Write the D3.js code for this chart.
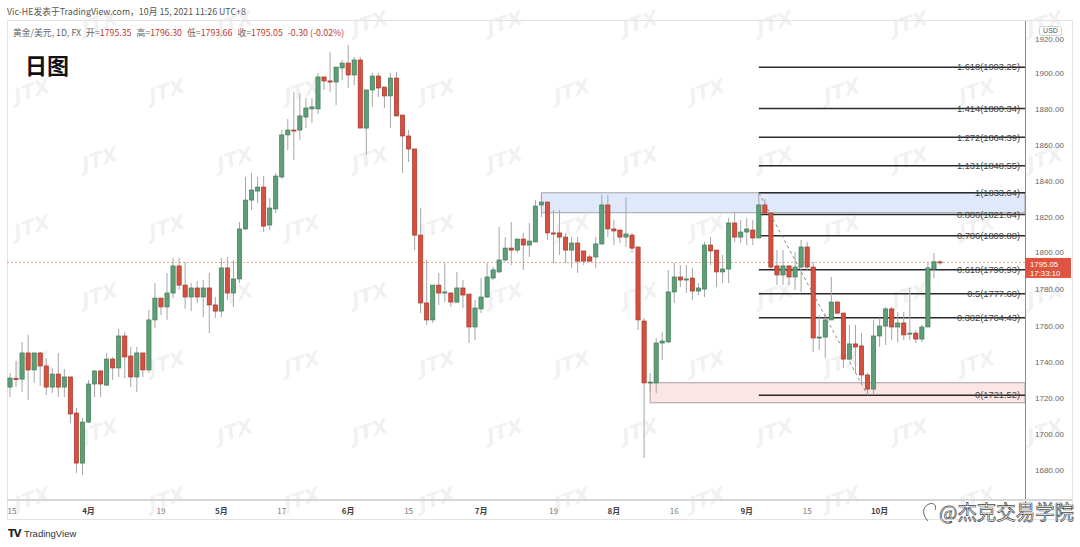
<!DOCTYPE html>
<html><head><meta charset="utf-8">
<script src="https://cdn.jsdelivr.net/npm/d3@7"></script>
<style>body{margin:0;background:#fff;}svg{display:block;}</style>
</head><body>
<svg id="c" width="1080" height="547"></svg>
<script>
// ---- data ----
const opens = [1726.0,1730.7,1730.4,1744.9,1735.5,1744.9,1737.7,1726.0,1733.2,1726.0,
1731.6,1711.6,1683.9,1706.6,1727.7,1734.9,1727.1,1741.5,1736.6,1754.3,
1743.2,1731.6,1744.9,1735.5,1763.2,1775.3,1770.4,1778.1,1793.1,1782.5,
1775.9,1780.9,1775.9,1780.9,1771.5,1768.1,1792.0,1778.1,1785.9,1813.6,
1829.6,1834.6,1836.8,1815.8,1824.7,1842.4,1865.7,1868.4,1868.4,1875.6,
1880.1,1880.1,1897.8,1895.6,1895.0,1902.8,1905.5,1898.9,1907.2,1869.5,
1890.6,1898.3,1892.2,1887.3,1897.2,1876.7,1865.1,1857.9,1810.2,1772.6,
1763.2,1782.5,1778.1,1778.1,1773.1,1780.9,1777.5,1759.3,1769.3,1775.9,
1786.4,1789.8,1796.4,1803.0,1801.9,1808.0,1804.7,1806.4,1826.9,1828.5,
1811.4,1811.4,1809.1,1801.9,1805.8,1801.4,1798.1,1798.1,1805.3,1826.9,
1813.6,1813.0,1809.1,1810.2,1803.6,1762.6,1728.3,1728.3,1750.4,1751.0,
1778.7,1787.0,1785.3,1786.4,1779.2,1780.3,1804.7,1801.9,1789.8,1791.4,
1816.9,1809.1,1811.9,1813.0,1808.6,1826.9,1822.4,1793.1,1788.1,1793.1,
1787.0,1792.5,1803.6,1792.5,1753.2,1753.7,1763.2,1773.1,1767.0,1741.5,
1749.9,1748.8,1732.7,1724.9,1754.3,1759.8,1769.3,1759.3,1761.5,1755.4,
1755.9,1752.6,1759.3,1791.4,1795.35];
const highs = [1733.8,1740.4,1751.0,1754.9,1744.9,1745.4,1742.1,1736.6,1744.9,1736.0,
1731.6,1714.4,1708.9,1729.9,1735.5,1735.5,1744.9,1742.7,1758.2,1756.5,
1748.2,1748.2,1744.9,1768.7,1783.6,1775.3,1789.2,1797.5,1797.5,1795.3,
1783.6,1784.8,1785.3,1789.2,1775.9,1797.5,1798.1,1796.4,1817.4,1842.4,
1844.6,1842.4,1842.9,1830.7,1844.6,1868.4,1874.5,1889.5,1888.9,1886.1,
1886.1,1900.0,1897.8,1911.6,1903.3,1907.2,1915.5,1908.9,1908.9,1890.6,
1900.0,1900.0,1892.2,1900.0,1900.6,1876.7,1868.4,1857.9,1825.2,1796.4,
1782.5,1789.2,1794.7,1778.7,1789.8,1785.3,1777.5,1774.2,1786.4,1794.7,
1792.5,1814.7,1809.1,1817.4,1808.0,1811.4,1816.9,1829.6,1832.4,1828.5,
1824.1,1824.1,1811.4,1809.1,1809.1,1801.4,1799.2,1809.1,1832.4,1832.4,
1818.6,1813.0,1831.3,1811.4,1803.6,1764.3,1733.8,1753.2,1756.5,1790.9,
1794.7,1793.6,1793.6,1792.0,1783.6,1806.4,1809.1,1801.9,1799.2,1819.7,
1823.0,1818.6,1819.7,1818.6,1833.6,1830.2,1823.0,1801.9,1801.9,1793.6,
1800.8,1807.5,1806.4,1795.3,1765.9,1767.0,1787.0,1773.6,1767.0,1760.4,
1760.4,1755.9,1733.8,1763.2,1764.3,1770.4,1770.4,1767.6,1767.6,1780.9,
1757.6,1760.4,1795.3,1800.3,1796.30];
const lows = [1720.5,1726.0,1723.3,1718.8,1728.3,1726.6,1721.6,1722.7,1720.5,1720.5,
1706.1,1678.4,1677.3,1706.1,1720.5,1720.5,1726.6,1729.9,1731.6,1731.0,
1726.0,1723.3,1731.6,1733.8,1758.7,1765.9,1763.2,1775.3,1779.8,1769.3,
1768.1,1772.6,1764.8,1755.9,1764.3,1764.8,1774.2,1770.4,1783.6,1813.0,
1824.1,1828.0,1811.9,1813.0,1822.4,1841.3,1857.3,1851.8,1862.9,1869.5,
1872.3,1877.3,1890.6,1889.5,1882.3,1896.1,1891.7,1893.3,1869.5,1854.6,
1881.2,1886.7,1880.6,1869.5,1876.2,1844.6,1850.7,1801.9,1767.0,1760.4,
1761.5,1771.5,1773.1,1770.4,1772.6,1769.8,1750.4,1752.0,1767.0,1775.3,
1785.3,1789.2,1795.3,1793.6,1800.3,1790.9,1798.1,1806.4,1820.2,1807.5,
1794.7,1799.2,1794.7,1792.0,1789.2,1793.6,1795.3,1792.0,1804.7,1809.1,
1804.7,1805.8,1803.6,1800.3,1757.6,1686.7,1723.3,1722.7,1741.0,1750.4,
1772.6,1781.4,1778.1,1774.2,1777.0,1775.9,1793.6,1781.4,1783.6,1783.6,
1806.4,1805.8,1804.7,1804.7,1808.6,1822.4,1791.4,1782.5,1782.5,1782.5,
1779.8,1778.7,1790.9,1745.4,1746.5,1742.1,1763.2,1766.5,1736.6,1741.0,
1733.8,1728.3,1721.5,1721.6,1748.2,1749.3,1752.0,1751.0,1752.0,1752.0,
1750.4,1751.0,1759.3,1786.4,1793.66];
const closes = [1731.0,1730.2,1744.9,1735.5,1744.9,1737.7,1726.0,1733.2,1726.0,1731.6,
1711.1,1683.9,1706.6,1727.7,1734.9,1727.7,1741.5,1736.6,1754.3,1742.7,
1731.6,1744.9,1735.5,1763.2,1775.3,1770.4,1778.1,1793.1,1782.5,1775.9,
1780.9,1775.9,1780.9,1771.5,1768.1,1792.0,1778.1,1785.9,1813.6,1829.6,
1835.2,1836.8,1815.2,1825.2,1842.9,1865.7,1868.4,1867.9,1876.2,1880.6,
1881.2,1897.8,1895.6,1895.0,1903.3,1905.5,1898.9,1907.2,1869.5,1890.6,
1898.3,1891.7,1887.3,1897.2,1876.2,1865.1,1857.9,1810.2,1772.6,1763.2,
1782.5,1778.1,1778.7,1773.1,1780.9,1777.0,1759.3,1769.8,1775.9,1787.0,
1790.9,1796.4,1803.0,1801.9,1808.0,1804.7,1806.9,1826.3,1828.5,1811.4,
1810.8,1809.1,1801.9,1805.8,1795.8,1795.8,1795.8,1805.3,1826.9,1813.6,
1812.5,1809.1,1810.8,1803.0,1763.2,1728.3,1728.8,1750.4,1751.5,1778.7,
1787.0,1785.3,1785.9,1779.2,1780.9,1804.7,1801.4,1789.8,1791.4,1816.9,
1809.1,1811.9,1813.6,1808.6,1826.9,1822.4,1792.5,1788.1,1793.1,1787.0,
1792.5,1803.6,1792.5,1753.2,1753.7,1763.2,1773.1,1767.0,1741.5,1749.9,
1748.2,1732.7,1724.9,1754.3,1759.8,1769.3,1759.3,1761.5,1754.9,1755.9,
1752.6,1759.3,1792.0,1795.4,1795.05];

const tickIdx = [0,13,25,35,45,56,66,78,90,100,110,122,132,144];
const tickLabels = ["15","4月","19","5月","17","6月","15","7月","19","8月","16","9月","15","10月"];
const priceTicks = [1680,1700,1720,1740,1760,1780,1800,1820,1840,1860,1880,1900,1920];

const fibRatios = ["1.618","1.414","1.272","1.131","1","0.886","0.786","0.618","0.5","0.382","0"];
const fibValues = [1903.25,1880.34,1864.39,1848.55,1833.64,1821.64,1809.88,1790.93,1777.68,1764.43,1721.52];
const fibStart = 124;

const zoneStart = [88,106];
const zoneTop = [1833.64,1728.4];
const zoneBottom = [1822.6,1717.3];

const swingFrom = {i:124, p:1833.64};
const swingTo = {i:142, p:1721.52};

const lastPrice = 1795.05;
const countdown = "17:33:10";

// ---- layout ----
const svg = d3.select("#c");
const L = 7, R = 1025, T = 21, B = 500;
const x = d3.scaleLinear().domain([0,154]).range([10,940]);
const y = d3.scaleLinear().domain([1680,1900]).range([470.1,73]);
const latin = "'Liberation Sans','Noto Sans CJK SC',sans-serif";
const cjk = "'Noto Sans CJK SC','Liberation Sans',sans-serif";

svg.append("rect").attr("width",1080).attr("height",547).attr("fill","#fff");

// watermark JTX
const wm = svg.append("g").attr("pointer-events","none");
for (let r=0; r<8; r++) {
  for (let k=-1; k<9; k++) {
    const cx = 100 + k*135 + (r%2)*67;
    const cy = 30 + r*68;
    if (cx < 25 || cx > 1050 || cy > 530) continue;
    wm.append("text").attr("transform",`translate(${cx},${cy}) rotate(-18) skewX(-15)`)
      .attr("text-anchor","middle").attr("font-family","'DejaVu Sans',sans-serif")
      .attr("font-weight","bold").attr("font-size",20).attr("fill","#000").attr("opacity",0.05)
      .text("JTX");
  }
}

// frame
svg.append("rect").attr("x",L+0.5).attr("y",T-0.5).attr("width",1072-L).attr("height",520-T)
  .attr("fill","none").attr("stroke","#e3e3e3");

// header
svg.append("text").attr("x",7).attr("y",15).attr("font-family",cjk).attr("font-size",8.8)
  .attr("fill","#555").text("Vic-HE发表于TradingView.com，10月 15, 2021 11:26 UTC+8");
const h2 = svg.append("text").attr("x",13).attr("y",36).attr("font-family",cjk).attr("font-size",8.8).attr("fill","#666");
const redT = "#c0392b";
h2.append("tspan").text("黄金/美元, 1D, FX");
h2.append("tspan").attr("dx",5).text("开=");
h2.append("tspan").attr("fill",redT).text(d3.format(".2f")(opens[154]));
h2.append("tspan").attr("dx",5).text("高=");
h2.append("tspan").attr("fill",redT).text(d3.format(".2f")(highs[154]));
h2.append("tspan").attr("dx",5).text("低=");
h2.append("tspan").attr("fill",redT).text(d3.format(".2f")(lows[154]));
h2.append("tspan").attr("dx",5).text("收=");
h2.append("tspan").attr("fill",redT).text(d3.format(".2f")(closes[154]));
h2.append("tspan").attr("dx",5).attr("fill",redT).text("-0.30 (-0.02%)");

svg.append("text").attr("x",25).attr("y",74).attr("font-family",cjk).attr("font-weight","bold")
  .attr("font-size",22).attr("fill","#111").text("日图");

// plot clip
svg.append("clipPath").attr("id","pc").append("rect").attr("x",L).attr("y",T).attr("width",R-L).attr("height",B-T);
const g = svg.append("g").attr("clip-path","url(#pc)");

// zones
const zoneFill = ["#dde6fb","#fbe3e3"];
zoneStart.forEach((s,k)=>{
  g.append("rect").attr("x",x(s)).attr("y",y(zoneTop[k])).attr("width",R-x(s))
   .attr("height",y(zoneBottom[k])-y(zoneTop[k])).attr("fill",zoneFill[k]).attr("opacity",0.9)
   .attr("stroke","#9a9a9a").attr("stroke-width",1);
});

// last price dotted line
g.append("line").attr("x1",L).attr("x2",R).attr("y1",y(lastPrice)).attr("y2",y(lastPrice))
  .attr("stroke","#e79a8f").attr("stroke-dasharray","2,2").attr("stroke-width",1);

// fib lines
fibValues.forEach((v,k)=>{
  g.append("line").attr("x1",x(fibStart)).attr("x2",R).attr("y1",y(v)).attr("y2",y(v))
    .attr("stroke","#2a2a2a").attr("stroke-width",1.5);
});

// candles
const data = opens.map((o,i)=>({i,o,h:highs[i],l:lows[i],c:closes[i]}));
const cg = g.append("g");
cg.selectAll("line.w").data(data).join("line").attr("class","w")
  .attr("x1",d=>x(d.i)).attr("x2",d=>x(d.i)).attr("y1",d=>y(d.h)).attr("y2",d=>y(d.l))
  .attr("stroke","#a6a6a6").attr("stroke-width",1);
cg.selectAll("rect.b").data(data).join("rect").attr("class","b")
  .attr("x",d=>x(d.i)-2.1).attr("width",4.2)
  .attr("y",d=>y(Math.max(d.o,d.c)))
  .attr("height",d=>Math.max(1,Math.abs(y(d.o)-y(d.c))))
  .attr("fill",d=>d.c>=d.o?"#5f9f78":"#d5503f")
  .attr("stroke",d=>d.c>=d.o?"#3f7b56":"#a8352a").attr("stroke-width",0.7);

// swing dashed line
g.append("line").attr("x1",x(swingFrom.i)).attr("y1",y(swingFrom.p)).attr("x2",x(swingTo.i)).attr("y2",y(swingTo.p))
  .attr("stroke","#8a8a8a").attr("stroke-width",1).attr("stroke-dasharray","3,3");

// fib labels
fibValues.forEach((v,k)=>{
  g.append("text").attr("x",1020).attr("y",y(v)).attr("dy","0.35em").attr("text-anchor","end")
    .attr("font-family",latin).attr("font-size",9.3).attr("fill","#444")
    .text(`${fibRatios[k]}(${d3.format(".2f")(v)})`);
});

// right axis
svg.append("line").attr("x1",R+0.5).attr("x2",R+0.5).attr("y1",T).attr("y2",507).attr("stroke","#8c8c8c");
const ya = svg.append("g");
priceTicks.forEach(p=>{
  ya.append("text").attr("x",1035).attr("y",p===1920?y(p)+2:(p===1800?y(p)-1:y(p))).attr("dy","0.35em").attr("font-family",latin)
    .attr("font-size",8).attr("fill","#666").text(d3.format(".2f")(p));
});
svg.append("rect").attr("x",1039.5).attr("y",26.5).attr("width",22).attr("height",9).attr("rx",2)
  .attr("fill","#fff").attr("stroke","#cfcfcf");
svg.append("text").attr("x",1050.5).attr("y",31).attr("dy","0.35em").attr("text-anchor","middle")
  .attr("font-family",latin).attr("font-size",7).attr("fill","#555").text("USD");
// last price label
svg.append("rect").attr("x",R).attr("y",y(lastPrice)-4.5).attr("width",46).attr("height",20).attr("fill","#de5440");
svg.append("text").attr("x",1030).attr("y",y(lastPrice)+1.5).attr("dy","0.35em").attr("font-family",latin)
  .attr("font-size",7.8).attr("fill","#fff").text(d3.format(".2f")(lastPrice));
svg.append("text").attr("x",1030).attr("y",y(lastPrice)+10.5).attr("dy","0.35em").attr("font-family",latin)
  .attr("font-size",7.8).attr("fill","#fff").text(countdown);

// time axis
svg.append("line").attr("x1",L).attr("x2",1072).attr("y1",B).attr("y2",B).attr("stroke","#d6d6d6").attr("stroke-width",2);
tickIdx.forEach((t,k)=>{
  const isM = tickLabels[k].includes("月");
  svg.append("text").attr("x",Math.max(x(t),12)).attr("y",511).attr("dy","0.35em").attr("text-anchor","middle")
    .attr("font-family",cjk).attr("font-size",8).attr("font-weight",isM?"bold":"normal")
    .attr("fill",isM?"#444":"#777").text(tickLabels[k]);
});

// TradingView logo
svg.append("text").attr("x",8).attr("y",537).attr("font-family","'DejaVu Sans',sans-serif")
  .attr("font-weight","900").attr("font-size",10).attr("letter-spacing",-1).attr("fill","#222").text("TV");
svg.append("text").attr("x",24).attr("y",537).attr("font-family",latin).attr("font-size",9.5)
  .attr("fill","#333").text("TradingView");

// weibo watermark
svg.append("path").attr("d","M928,521 C922,515 922,507 929,504 C934,502 937,506 935,510")
  .attr("fill","none").attr("stroke","#555").attr("stroke-width",0.9);
svg.append("text").attr("x",939).attr("y",520).attr("font-family",cjk).attr("font-size",20)
  .attr("textLength",135).attr("lengthAdjust","spacingAndGlyphs")
  .attr("fill","#fff").attr("stroke","#444").attr("stroke-width",0.7).text("@杰克交易学院");
</script>
</body></html>
